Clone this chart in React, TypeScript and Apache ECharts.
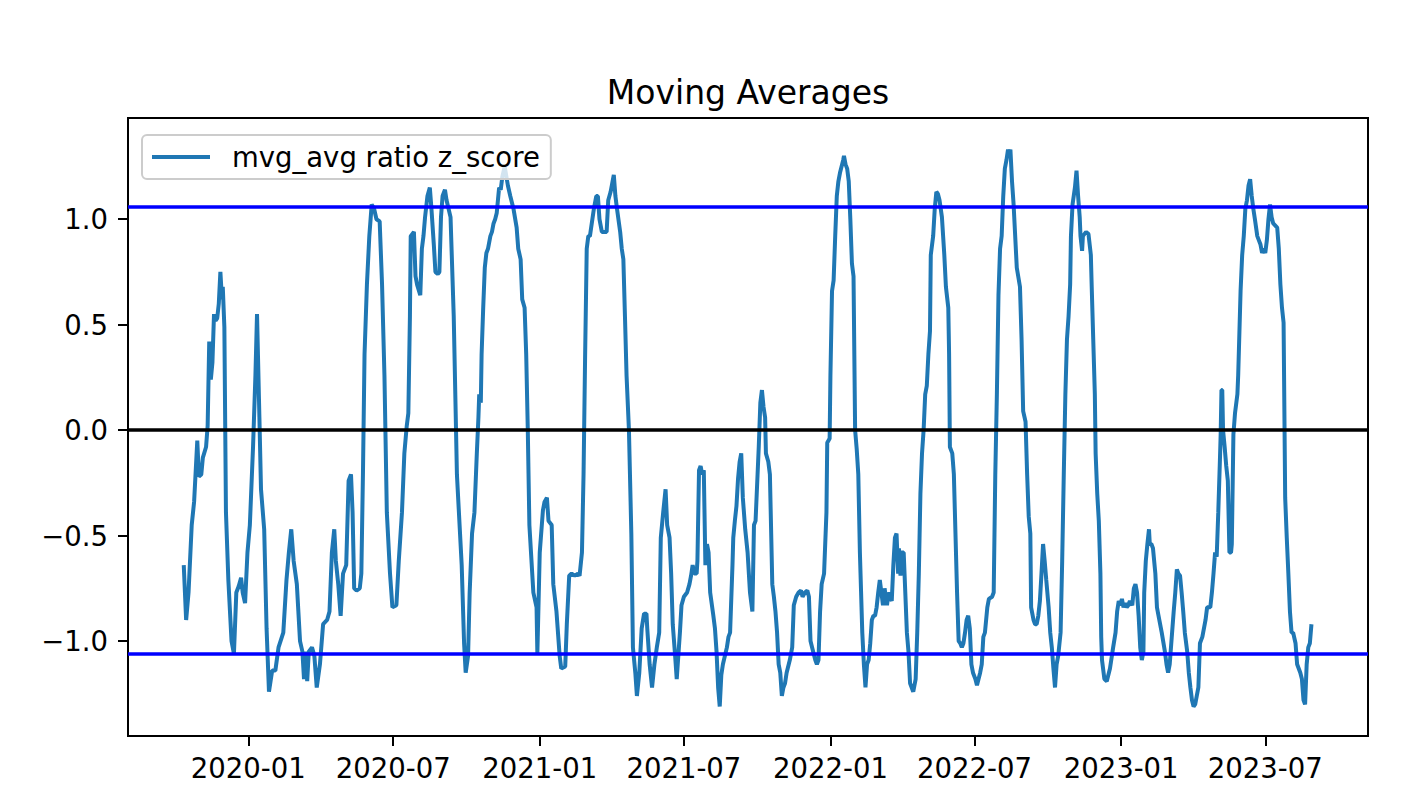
import React, { useEffect, useRef } from "react";
import * as echarts from "echarts";

const TITLE = "Moving Averages";
const SERIES_NAME = "mvg_avg ratio z_score";
const xTickLabels = ["2020-01", "2020-07", "2021-01", "2021-07", "2022-01", "2022-07", "2023-01", "2023-07"];
const yTickValues = [-1.0, -0.5, 0.0, 0.5, 1.0];
const upperBand = 1.06;
const lowerBand = -1.06;
const zeroLine = 0;
const xLimits = ["2019-08-03", "2023-11-07"];
const yLimits = [-1.45, 1.48];

const dates = [
  "2019-10-12","2019-10-15","2019-10-18","2019-10-22","2019-10-25","2019-10-29","2019-10-31","2019-11-03","2019-11-05","2019-11-09",
  "2019-11-11","2019-11-13","2019-11-15","2019-11-17","2019-11-19","2019-11-21","2019-11-23","2019-11-25","2019-11-27","2019-11-29",
  "2019-11-30","2019-12-02","2019-12-04","2019-12-07","2019-12-11","2019-12-14","2019-12-17","2019-12-20","2019-12-23","2019-12-25",
  "2019-12-28","2019-12-31","2020-01-03","2020-01-07","2020-01-10","2020-01-12","2020-01-15","2020-01-17","2020-01-21","2020-01-24",
  "2020-01-27","2020-01-31","2020-02-04","2020-02-08","2020-02-14","2020-02-18","2020-02-21","2020-02-24","2020-02-27","2020-03-02",
  "2020-03-06","2020-03-09","2020-03-11","2020-03-13","2020-03-15","2020-03-17","2020-03-21","2020-03-24","2020-03-27","2020-03-31",
  "2020-04-04","2020-04-09","2020-04-12","2020-04-15","2020-04-18","2020-04-20","2020-04-23","2020-04-26","2020-04-29","2020-05-03",
  "2020-05-06","2020-05-09","2020-05-11","2020-05-13","2020-05-16","2020-05-20","2020-05-22","2020-05-24","2020-05-26","2020-05-29",
  "2020-06-01","2020-06-04","2020-06-07","2020-06-10","2020-06-14","2020-06-17","2020-06-20","2020-06-23","2020-06-27","2020-06-30",
  "2020-07-05","2020-07-08","2020-07-12","2020-07-15","2020-07-18","2020-07-20","2020-07-22","2020-07-23","2020-07-27","2020-07-29",
  "2020-07-31","2020-08-04","2020-08-06","2020-08-08","2020-08-10","2020-08-13","2020-08-16","2020-08-18","2020-08-21","2020-08-23",
  "2020-08-26","2020-08-28","2020-08-30","2020-09-01","2020-09-04","2020-09-06","2020-09-11","2020-09-15","2020-09-19","2020-09-25",
  "2020-09-28","2020-09-30","2020-10-03","2020-10-05","2020-10-08","2020-10-11","2020-10-14","2020-10-16","2020-10-17","2020-10-19",
  "2020-10-20","2020-10-22","2020-10-24","2020-10-26","2020-10-28","2020-10-31","2020-11-02","2020-11-04","2020-11-06","2020-11-08",
  "2020-11-10","2020-11-11","2020-11-13","2020-11-15","2020-11-18","2020-11-22","2020-11-25","2020-11-29","2020-12-03","2020-12-05",
  "2020-12-08","2020-12-10","2020-12-13","2020-12-15","2020-12-17","2020-12-19","2020-12-24","2020-12-28","2020-12-29","2021-01-01",
  "2021-01-05","2021-01-07","2021-01-10","2021-01-12","2021-01-16","2021-01-18","2021-01-22","2021-01-26","2021-01-28","2021-02-02",
  "2021-02-04","2021-02-07","2021-02-10","2021-02-14","2021-02-18","2021-02-20","2021-02-23","2021-02-25","2021-02-27","2021-03-01",
  "2021-03-03","2021-03-05","2021-03-10","2021-03-13","2021-03-15","2021-03-17","2021-03-20","2021-03-24","2021-03-26","2021-03-28",
  "2021-03-31","2021-04-04","2021-04-06","2021-04-08","2021-04-12","2021-04-14","2021-04-16","2021-04-18","2021-04-20","2021-04-23",
  "2021-04-26","2021-04-28","2021-05-01","2021-05-03","2021-05-06","2021-05-09","2021-05-12","2021-05-15","2021-05-16","2021-05-19",
  "2021-05-22","2021-05-25","2021-05-28","2021-05-31","2021-06-02","2021-06-05","2021-06-08","2021-06-10","2021-06-13","2021-06-15",
  "2021-06-17","2021-06-20","2021-06-22","2021-06-24","2021-06-26","2021-06-28","2021-07-01","2021-07-05","2021-07-08","2021-07-10",
  "2021-07-12","2021-07-14","2021-07-17","2021-07-18","2021-07-20","2021-07-22","2021-07-24","2021-07-26","2021-07-28","2021-07-30",
  "2021-08-01","2021-08-03","2021-08-07","2021-08-09","2021-08-11","2021-08-13","2021-08-15","2021-08-17","2021-08-19","2021-08-24",
  "2021-08-26","2021-08-28","2021-08-31","2021-09-01","2021-09-03","2021-09-05","2021-09-07","2021-09-09","2021-09-11","2021-09-13",
  "2021-09-16","2021-09-19","2021-09-22","2021-09-25","2021-09-27","2021-09-29","2021-10-03","2021-10-05","2021-10-07","2021-10-09",
  "2021-10-11","2021-10-12","2021-10-15","2021-10-17","2021-10-20","2021-10-22","2021-10-24","2021-10-26","2021-10-28","2021-10-30",
  "2021-11-01","2021-11-03","2021-11-05","2021-11-07","2021-11-11","2021-11-14","2021-11-16","2021-11-19","2021-11-22","2021-11-25",
  "2021-11-27","2021-11-30","2021-12-03","2021-12-05","2021-12-07","2021-12-09","2021-12-13","2021-12-15","2021-12-17","2021-12-19",
  "2021-12-21","2021-12-24","2021-12-27","2021-12-28","2021-12-31","2022-01-01","2022-01-03","2022-01-05","2022-01-07","2022-01-09",
  "2022-01-11","2022-01-13","2022-01-17","2022-01-18","2022-01-20","2022-01-22","2022-01-24","2022-01-26","2022-01-28","2022-01-30",
  "2022-02-01","2022-02-03","2022-02-05","2022-02-07","2022-02-10","2022-02-12","2022-02-14","2022-02-16","2022-02-18","2022-02-20",
  "2022-02-22","2022-02-24","2022-02-26","2022-02-28","2022-03-02","2022-03-04","2022-03-06","2022-03-08","2022-03-10","2022-03-13",
  "2022-03-15","2022-03-17","2022-03-19","2022-03-21","2022-03-23","2022-03-25","2022-03-27","2022-03-28","2022-03-30","2022-03-31",
  "2022-04-03","2022-04-05","2022-04-07","2022-04-09","2022-04-11","2022-04-13","2022-04-15","2022-04-18","2022-04-20","2022-04-22",
  "2022-04-24","2022-04-26","2022-04-28","2022-04-30","2022-05-02","2022-05-04","2022-05-06","2022-05-07","2022-05-10","2022-05-12",
  "2022-05-14","2022-05-16","2022-05-18","2022-05-21","2022-05-24","2022-05-26","2022-05-29","2022-05-30","2022-05-31","2022-06-03",
  "2022-06-05","2022-06-07","2022-06-09","2022-06-11","2022-06-13","2022-06-15","2022-06-17","2022-06-19","2022-06-21","2022-06-23",
  "2022-06-25","2022-06-27","2022-06-29","2022-07-02","2022-07-04","2022-07-06","2022-07-08","2022-07-10","2022-07-12","2022-07-14",
  "2022-07-17","2022-07-19","2022-07-23","2022-07-25","2022-07-27","2022-07-29","2022-07-31","2022-08-02","2022-08-04","2022-08-06",
  "2022-08-08","2022-08-10","2022-08-12","2022-08-13","2022-08-15","2022-08-17","2022-08-19","2022-08-21","2022-08-23","2022-08-27",
  "2022-08-29","2022-08-31","2022-09-03","2022-09-05","2022-09-07","2022-09-09","2022-09-10","2022-09-13","2022-09-15","2022-09-17",
  "2022-09-19","2022-09-21","2022-09-23","2022-09-25","2022-09-27","2022-09-29","2022-10-02","2022-10-04","2022-10-06","2022-10-08",
  "2022-10-10","2022-10-12","2022-10-14","2022-10-17","2022-10-19","2022-10-21","2022-10-23","2022-10-25","2022-10-27","2022-10-29",
  "2022-10-30","2022-11-01","2022-11-04","2022-11-06","2022-11-08","2022-11-10","2022-11-11","2022-11-13","2022-11-14","2022-11-18",
  "2022-11-21","2022-11-24","2022-11-25","2022-11-27","2022-11-29","2022-11-30","2022-12-02","2022-12-04","2022-12-06","2022-12-07",
  "2022-12-08","2022-12-11","2022-12-14","2022-12-18","2022-12-22","2022-12-25","2022-12-27","2022-12-29","2022-12-31","2023-01-02",
  "2023-01-04","2023-01-06","2023-01-08","2023-01-10","2023-01-12","2023-01-15","2023-01-17","2023-01-19","2023-01-21","2023-01-23",
  "2023-01-25","2023-01-27","2023-01-29","2023-01-30","2023-02-01","2023-02-03","2023-02-05","2023-02-06","2023-02-08","2023-02-10",
  "2023-02-13","2023-02-15","2023-02-17","2023-02-21","2023-02-25","2023-02-27","2023-03-01","2023-03-03","2023-03-06","2023-03-08",
  "2023-03-10","2023-03-12","2023-03-14","2023-03-16","2023-03-18","2023-03-20","2023-03-22","2023-03-25","2023-03-27","2023-03-29",
  "2023-03-31","2023-04-02","2023-04-04","2023-04-06","2023-04-08","2023-04-10","2023-04-13","2023-04-17","2023-04-19","2023-04-23",
  "2023-04-25","2023-04-27","2023-04-29","2023-05-01","2023-05-03","2023-05-05","2023-05-06","2023-05-07","2023-05-08","2023-05-09",
  "2023-05-11","2023-05-13","2023-05-15","2023-05-17","2023-05-19","2023-05-20","2023-05-22","2023-05-24","2023-05-27","2023-05-28",
  "2023-05-31","2023-06-02","2023-06-04","2023-06-06","2023-06-08","2023-06-10","2023-06-12","2023-06-14","2023-06-16","2023-06-18",
  "2023-06-21","2023-06-23","2023-06-25","2023-06-27","2023-06-29","2023-07-01","2023-07-03","2023-07-05","2023-07-07","2023-07-09",
  "2023-07-11","2023-07-16","2023-07-18","2023-07-20","2023-07-22","2023-07-24","2023-07-26","2023-07-28","2023-07-30","2023-08-01",
  "2023-08-03","2023-08-05","2023-08-08","2023-08-10","2023-08-12","2023-08-14","2023-08-16","2023-08-18","2023-08-20","2023-08-22",
  "2023-08-24","2023-08-26","2023-08-28"
];

const zScore = [
  -0.64,-0.90,-0.77,-0.45,-0.34,-0.05,-0.22,-0.21,-0.13,-0.08,
  0.02,0.42,0.24,0.32,0.55,0.52,0.53,0.60,0.75,0.62,
  0.68,0.49,-0.39,-0.71,-1.00,-1.06,-0.77,-0.74,-0.70,-0.77,
  -0.82,-0.58,-0.45,-0.08,0.26,0.55,0.06,-0.28,-0.47,-0.94,
  -1.24,-1.14,-1.14,-1.03,-0.96,-0.71,-0.58,-0.47,-0.62,-0.73,
  -1.00,-1.05,-1.18,-1.05,-1.19,-1.05,-1.03,-1.07,-1.22,-1.11,
  -0.92,-0.90,-0.86,-0.58,-0.47,-0.62,-0.73,-0.88,-0.68,-0.64,
  -0.24,-0.21,-0.39,-0.75,-0.76,-0.75,-0.68,-0.21,0.36,0.69,
  0.92,1.07,1.05,1.00,0.99,0.69,0.26,-0.39,-0.68,-0.84,
  -0.83,-0.62,-0.39,-0.11,0.02,0.08,0.54,0.92,0.94,0.73,
  0.69,0.64,0.86,0.92,1.01,1.11,1.15,1.05,0.88,0.75,
  0.74,0.75,1.01,1.11,1.14,1.09,1.01,0.54,-0.21,-0.64,
  -1.01,-1.15,-1.07,-0.77,-0.49,-0.39,-0.11,0.06,0.17,0.13,
  0.36,0.58,0.77,0.84,0.86,0.92,0.94,0.98,1.00,1.03,
  1.11,1.15,1.14,1.20,1.25,1.16,1.11,1.05,0.96,0.86,
  0.81,0.62,0.58,0.36,0.00,-0.45,-0.77,-0.84,-1.06,-0.58,
  -0.38,-0.34,-0.32,-0.43,-0.45,-0.73,-0.86,-1.07,-1.13,-1.12,
  -0.92,-0.69,-0.68,-0.69,-0.68,-0.69,-0.58,-0.21,0.36,0.86,
  0.92,0.92,1.05,1.11,1.11,1.00,0.94,0.94,0.94,1.09,
  1.13,1.21,1.11,1.05,0.94,0.86,0.81,0.54,0.26,0.00,
  -0.49,-1.03,-1.15,-1.26,-1.15,-0.94,-0.87,-0.87,-0.94,-1.11,
  -1.22,-1.11,-1.03,-0.96,-0.51,-0.39,-0.28,-0.45,-0.51,-0.68,
  -0.92,-1.07,-1.18,-1.07,-0.96,-0.83,-0.79,-0.77,-0.73,-0.69,
  -0.64,-0.68,-0.68,-0.62,-0.19,-0.17,-0.21,-0.19,-0.64,-0.54,
  -0.58,-0.77,-0.88,-0.94,-1.05,-1.22,-1.31,-1.16,-1.11,-1.03,
  -0.98,-0.96,-0.64,-0.51,-0.43,-0.36,-0.23,-0.15,-0.11,-0.32,
  -0.47,-0.58,-0.77,-0.86,-0.45,-0.43,-0.08,0.13,0.19,0.11,
  0.06,-0.11,-0.15,-0.21,-0.73,-0.79,-0.86,-0.96,-1.11,-1.15,
  -1.26,-1.22,-1.20,-1.15,-1.09,-1.03,-0.83,-0.79,-0.77,-0.76,
  -0.79,-0.77,-0.76,-0.79,-1.00,-1.03,-1.09,-1.11,-1.09,-0.86,
  -0.73,-0.68,-0.39,-0.06,-0.04,0.26,0.66,0.71,0.92,1.11,
  1.18,1.22,1.28,1.30,1.26,1.24,1.18,1.00,0.79,0.73,
  0.00,-0.09,-0.21,-0.58,-0.96,-1.11,-1.22,-1.11,-1.09,-1.01,
  -0.90,-0.88,-0.88,-0.84,-0.77,-0.71,-0.77,-0.83,-0.75,-0.83,
  -0.77,-0.79,-0.81,-0.64,-0.51,-0.49,-0.68,-0.56,-0.69,-0.58,
  -0.58,-0.77,-0.96,-1.05,-1.20,-1.22,-1.24,-1.18,-0.96,-0.68,
  -0.30,-0.11,0.00,0.17,0.21,0.36,0.47,0.83,0.92,1.05,
  1.13,1.12,1.09,1.01,0.83,0.68,0.58,0.36,-0.08,-0.11,
  -0.21,-0.49,-0.77,-1.00,-1.01,-1.03,-1.01,-0.96,-0.90,-0.88,
  -0.94,-1.11,-1.15,-1.18,-1.21,-1.18,-1.15,-1.11,-0.98,-0.96,
  -0.84,-0.80,-0.79,-0.77,-0.21,0.17,0.64,0.86,0.92,1.11,
  1.24,1.28,1.33,1.31,1.33,1.18,1.07,0.92,0.77,0.68,
  0.43,0.09,0.04,-0.21,-0.41,-0.49,-0.84,-0.90,-0.92,-0.92,
  -0.88,-0.81,-0.68,-0.54,-0.62,-0.71,-0.84,-0.96,-1.03,-1.13,
  -1.22,-1.11,-1.07,-0.96,-0.62,-0.21,0.17,0.43,0.54,0.69,
  0.92,1.07,1.15,1.23,1.11,1.01,0.92,0.85,0.92,0.94,
  0.93,0.83,0.69,0.43,0.17,-0.11,-0.30,-0.43,-0.68,-0.98,
  -1.09,-1.18,-1.19,-1.13,-1.03,-0.96,-0.86,-0.81,-0.83,-0.80,
  -0.84,-0.82,-0.84,-0.83,-0.81,-0.83,-0.75,-0.73,-0.77,-0.88,
  -1.03,-1.09,-1.05,-0.77,-0.62,-0.54,-0.47,-0.54,-0.54,-0.56,
  -0.68,-0.84,-0.88,-0.96,-1.05,-1.11,-1.15,-1.11,-0.96,-0.86,
  -0.77,-0.66,-0.68,-0.69,-0.77,-0.86,-0.96,-1.05,-1.15,-1.22,
  -1.28,-1.31,-1.30,-1.26,-1.22,-1.01,-0.98,-0.90,-0.84,-0.84,
  -0.77,-0.68,-0.58,-0.60,-0.39,-0.15,-0.02,0.19,0.19,0.00,
  -0.08,-0.17,-0.24,-0.58,-0.58,-0.54,-0.02,0.08,0.17,0.26,
  0.66,0.83,0.92,1.05,1.09,1.16,1.19,1.11,1.05,1.00,
  0.92,0.90,0.88,0.84,0.86,0.84,0.90,1.00,1.07,1.01,
  0.98,0.96,0.86,0.69,0.58,0.51,-0.32,-0.51,-0.68,-0.86,
  -0.96,-0.96,-1.01,-1.11,-1.13,-1.15,-1.18,-1.28,-1.30,-1.11,
  -1.03,-1.01,-0.92
];

const FONT = "DejaVu Sans";

function toTs(s: string): number {
  const parts = s.split("-").map(Number);
  return new Date(parts[0], parts[1] - 1, parts[2] || 1).getTime();
}

function fmtMonth(v: number): string {
  const d = new Date(v);
  return `${d.getFullYear()}-${String(d.getMonth() + 1).padStart(2, "0")}`;
}

export default function App() {
  const ref = useRef<HTMLDivElement>(null);

  useEffect(() => {
    if (!ref.current) return;
    const chart = echarts.init(ref.current, undefined, { renderer: "svg" });
    const xTicks = xTickLabels.map(toTs);
    const seriesData = dates.map((d, i) => [toTs(d), zScore[i]]);
    const bandLine = (v: number, color: string) => ({
      yAxis: v,
      lineStyle: { color, width: 3.5, type: "solid" },
    });

    chart.setOption({
      animation: false,
      backgroundColor: "#ffffff",
      graphic: [
        {
          type: "text",
          x: 748,
          y: 92,
          z: 10,
          style: {
            text: TITLE,
            fontFamily: FONT,
            fontSize: 33,
            fill: "#000000",
            align: "center",
            verticalAlign: "middle",
          },
        },
      ],
      grid: {
        left: 128,
        right: 52,
        top: 118,
        bottom: 74,
        show: true,
        borderColor: "#000000",
        borderWidth: 2,
        backgroundColor: "transparent",
      },
      legend: {
        show: true,
        left: 142,
        top: 135,
        orient: "horizontal",
        padding: [8, 11, 8, 10],
        backgroundColor: "rgba(255,255,255,0.8)",
        borderColor: "#cccccc",
        borderWidth: 2,
        borderRadius: 5,
        itemWidth: 58,
        itemHeight: 4,
        selectedMode: false,
        data: [{ name: SERIES_NAME, icon: "rect" }],
        textStyle: {
          fontFamily: FONT,
          fontSize: 27.5,
          color: "#000000",
          padding: [0, 0, 0, 17],
        },
      },
      xAxis: {
        type: "value",
        min: toTs(xLimits[0]),
        max: toTs(xLimits[1]),
        splitLine: { show: false },
        axisLine: { show: true, onZero: false, lineStyle: { color: "#000000", width: 2 } },
        axisTick: {
          show: true,
          customValues: xTicks,
          length: 10,
          inside: false,
          lineStyle: { color: "#000000", width: 2 },
        },
        axisLabel: {
          customValues: xTicks,
          formatter: (v: number) => fmtMonth(v),
          fontFamily: FONT,
          fontSize: 27.5,
          color: "#000000",
          margin: 18,
          hideOverlap: false,
        },
      },
      yAxis: {
        type: "value",
        min: yLimits[0],
        max: yLimits[1],
        splitLine: { show: false },
        axisLine: { show: true, onZero: false, lineStyle: { color: "#000000", width: 2 } },
        axisTick: {
          show: true,
          customValues: yTickValues,
          length: 10,
          inside: false,
          lineStyle: { color: "#000000", width: 2 },
        },
        axisLabel: {
          customValues: yTickValues,
          formatter: (v: number) => v.toFixed(1).replace("-", "\u2212"),
          fontFamily: FONT,
          fontSize: 27.5,
          color: "#000000",
          margin: 20,
        },
      },
      series: [
        {
          name: SERIES_NAME,
          type: "line",
          data: seriesData,
          showSymbol: false,
          symbol: "none",
          clip: true,
          lineStyle: { color: "#1f77b4", width: 4 },
          itemStyle: { color: "#1f77b4" },
          emphasis: { disabled: true },
          markLine: {
            silent: true,
            symbol: ["none", "none"],
            label: { show: false },
            emphasis: { disabled: true },
            data: [
              bandLine(upperBand, "#0000ff"),
              bandLine(lowerBand, "#0000ff"),
              bandLine(zeroLine, "#000000"),
            ],
          },
        },
      ],
    });

    return () => chart.dispose();
  }, []);

  return (
    <div
      ref={ref}
      style={{ position: "fixed", left: 0, top: 0, width: 1420, height: 810, background: "#ffffff" }}
    />
  );
}
